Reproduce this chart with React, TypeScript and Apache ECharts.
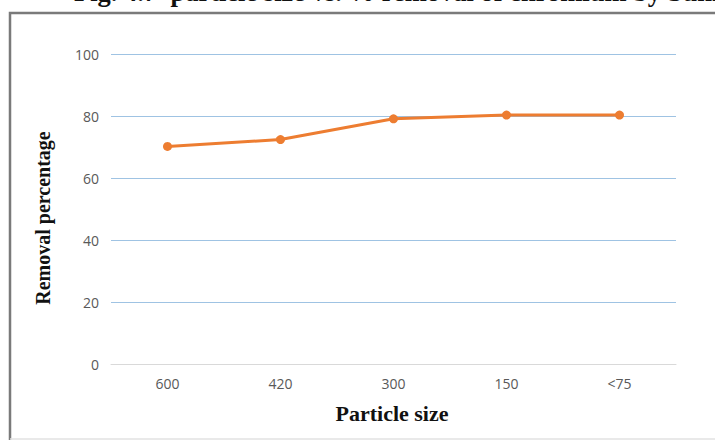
import React, { useEffect, useRef } from "react";
import * as echarts from "echarts";

const categories = ["600", "420", "300", "150", "<75"];
const removal = [70.2, 72.4, 79.1, 80.3, 80.3];
const yTicks = { min: 0, max: 100, interval: 20 };
const titleText = "Fig. 4.7  particle size vs. % removal of chromium by Sunn hemp";
const xTitle = "Particle size";
const yTitle = "Removal percentage";

const serifBold = (size: number) =>
  `bold ${size}px "Liberation Serif", "DejaVu Serif", serif`;

export default function App() {
  const ref = useRef<HTMLDivElement>(null);

  useEffect(() => {
    if (!ref.current) return;
    const chart = echarts.init(ref.current, null, { renderer: "svg" });
    chart.setOption({
      animation: false,
      backgroundColor: "#ffffff",
      grid: { left: 111, right: 39, top: 54, bottom: 76 },
      graphic: [
        {
          type: "polyline",
          shape: { points: [[10, 442], [10, 13], [720, 13]] },
          style: { stroke: "#7a7a7a", lineWidth: 2.5, fill: "none" },
          z: 10,
        },
        {
          type: "line",
          shape: { x1: 10, y1: 439, x2: 715, y2: 439 },
          style: { stroke: "#e2e2e2", lineWidth: 1.5 },
          z: 10,
        },
        {
          type: "text",
          x: 74,
          y: 5,
          style: {
            text: titleText,
            font: serifBold(26.5),
            fill: "#111111",
            textVerticalAlign: "bottom",
          },
          z: 10,
        },
        {
          type: "text",
          x: 392,
          y: 413,
          style: {
            text: xTitle,
            font: serifBold(22),
            fill: "#111111",
            textAlign: "center",
            textVerticalAlign: "middle",
          },
          z: 10,
        },
        {
          type: "text",
          x: 43,
          y: 218,
          rotation: Math.PI / 2,
          style: {
            text: yTitle,
            font: serifBold(20),
            fill: "#111111",
            textAlign: "center",
            textVerticalAlign: "middle",
          },
          z: 10,
        },
      ],
      xAxis: {
        type: "category",
        data: categories,
        boundaryGap: true,
        axisLine: { show: true, lineStyle: { color: "#d9d9d9", width: 1 } },
        axisTick: { show: false },
        axisLabel: {
          margin: 12,
          color: "#595959",
          fontSize: 14,
          fontFamily: '"Open Sans", "Liberation Sans", sans-serif',
        },
      },
      yAxis: {
        type: "value",
        min: yTicks.min,
        max: yTicks.max,
        interval: yTicks.interval,
        axisLine: { show: false },
        axisTick: { show: false },
        axisLabel: {
          margin: 12,
          color: "#595959",
          fontSize: 14,
          fontFamily: '"Open Sans", "Liberation Sans", sans-serif',
        },
        splitLine: {
          show: true,
          lineStyle: { color: "#9fc3e3", width: 1.2 },
        },
      },
      series: [
        {
          type: "line",
          data: removal,
          symbol: "circle",
          symbolSize: 9,
          lineStyle: { color: "#ed7d31", width: 3 },
          itemStyle: { color: "#ed7d31" },
          z: 5,
        },
      ],
    });
    return () => chart.dispose();
  }, []);

  return (
    <div
      ref={ref}
      style={{ position: "absolute", left: 0, top: 0, width: 715, height: 440 }}
    />
  );
}
